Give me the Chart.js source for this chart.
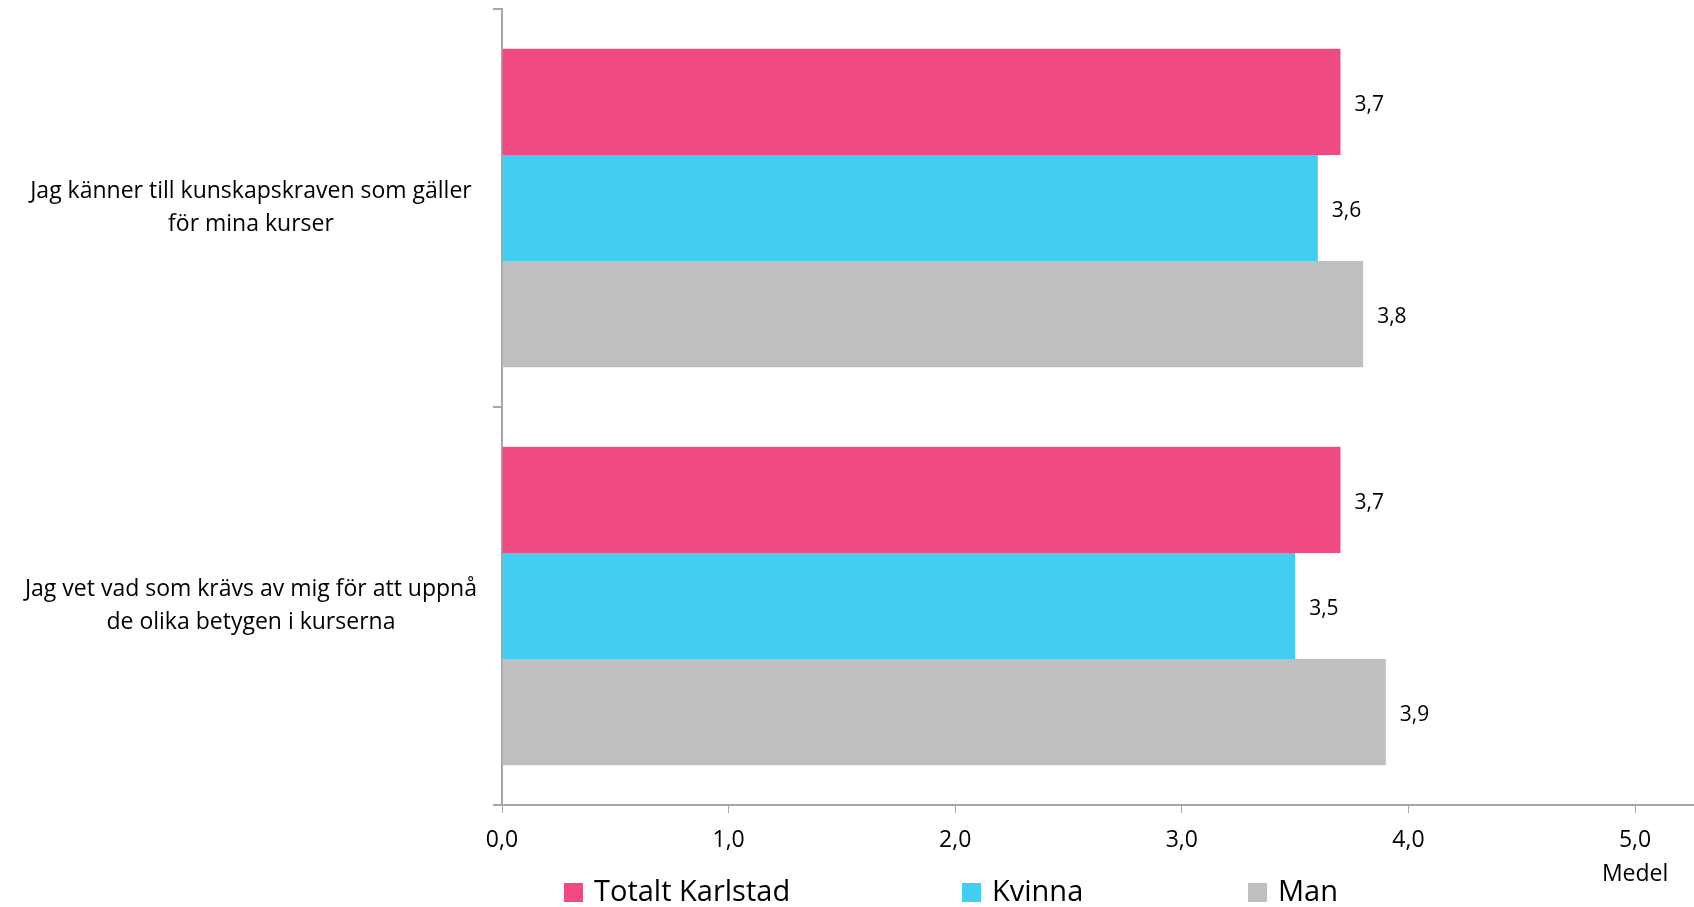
<!DOCTYPE html>
<html>
<head>
<meta charset="utf-8">
<script src="https://cdn.jsdelivr.net/npm/chart.js@4.4.1/dist/chart.umd.min.js"></script>
<style>
  html, body { margin: 0; padding: 0; background: #ffffff; }
  #wrap { position: relative; width: 1694px; height: 907px; }
</style>
</head>
<body>
<div id="wrap"><canvas id="c" width="1694" height="907"></canvas></div>
<script>
const categories = [
  ['Jag känner till kunskapskraven som gäller', 'för mina kurser'],
  ['Jag vet vad som krävs av mig för att uppnå', 'de olika betygen i kurserna']
];
const seriesNames = ['Totalt Karlstad', 'Kvinna', 'Man'];
const totaltKarlstad = [3.7, 3.7];
const kvinna = [3.6, 3.5];
const man = [3.8, 3.9];
const tickLabels = ['0,0', '1,0', '2,0', '3,0', '4,0', '5,0'];
const axisTitle = 'Medel';

const colors = ['#EF4A81', '#43CDF0', '#BFBFBF'];
const FONT = '"Open Sans", "DejaVu Sans", sans-serif';
const AXIS_GRAY = '#a6a6a6';

const fmt = v => v.toFixed(1).replace('.', ',');

const dataLabelPlugin = {
  id: 'dataLabels',
  afterDatasetsDraw(chart) {
    const ctx = chart.ctx;
    ctx.save();
    ctx.font = '21px ' + FONT;
    ctx.fillStyle = '#000';
    ctx.textAlign = 'left';
    ctx.textBaseline = 'middle';
    chart.data.datasets.forEach((ds, i) => {
      const meta = chart.getDatasetMeta(i);
      meta.data.forEach((bar, j) => {
        ctx.fillText(fmt(ds.data[j]), bar.x + 14, bar.y + 3);
      });
    });
    ctx.restore();
  }
};

const extrasPlugin = {
  id: 'extras',
  afterDraw(chart) {
    const ctx = chart.ctx;
    const xs = chart.scales.x;
    ctx.save();
    ctx.font = '23px ' + FONT;
    ctx.fillStyle = '#000';
    ctx.textAlign = 'center';
    ctx.textBaseline = 'middle';
    ctx.fillText(axisTitle, xs.getPixelForValue(5), 874);
    const legendX = [564, 962, 1248];
    ctx.font = '29px ' + FONT;
    ctx.textAlign = 'left';
    seriesNames.forEach((name, i) => {
      ctx.fillStyle = colors[i];
      ctx.fillRect(legendX[i], 883, 19, 19);
      ctx.fillStyle = '#000';
      ctx.fillText(name, legendX[i] + 30, 893);
    });
    ctx.restore();
  }
};

new Chart(document.getElementById('c'), {
  type: 'bar',
  data: {
    labels: categories,
    datasets: [
      { label: seriesNames[0], data: totaltKarlstad, backgroundColor: colors[0] },
      { label: seriesNames[1], data: kvinna, backgroundColor: colors[1] },
      { label: seriesNames[2], data: man, backgroundColor: colors[2] }
    ]
  },
  options: {
    indexAxis: 'y',
    responsive: false,
    animation: false,
    devicePixelRatio: 1,
    categoryPercentage: 0.8,
    barPercentage: 1.0,
    layout: { padding: { top: 9, right: 0, left: 0, bottom: 0 } },
    plugins: {
      legend: { display: false },
      tooltip: { enabled: false }
    },
    scales: {
      x: {
        min: 0,
        max: 5.26,
        afterBuildTicks(axis) {
          axis.ticks = tickLabels.map((t, i) => ({ value: i }));
        },
        afterFit(axis) {
          axis.height = 102;
          axis.paddingLeft = 0; axis.paddingRight = 0;
        },
        border: { display: true, color: AXIS_GRAY, width: 2 },
        grid: { drawOnChartArea: false, drawTicks: true, tickLength: 8, color: AXIS_GRAY, lineWidth: 1 },
        ticks: {
          autoSkip: false,
          maxRotation: 0,
          padding: 14,
          color: '#000',
          font: { family: FONT, size: 23 },
          callback: (v) => tickLabels[v]
        }
      },
      y: {
        afterFit(axis) {
          axis.width = 502;
          axis.paddingTop = 0; axis.paddingBottom = 0;
        },
        border: { display: true, color: AXIS_GRAY, width: 2 },
        grid: { offset: true, drawOnChartArea: false, drawTicks: true, tickLength: 9, color: AXIS_GRAY, lineWidth: 2 },
        ticks: {
          crossAlign: 'center',
          padding: 16,
          color: '#000',
          font: { family: FONT, size: 23, lineHeight: 1.43 }
        }
      }
    }
  },
  plugins: [dataLabelPlugin, extrasPlugin]
});
</script>
</body>
</html>
